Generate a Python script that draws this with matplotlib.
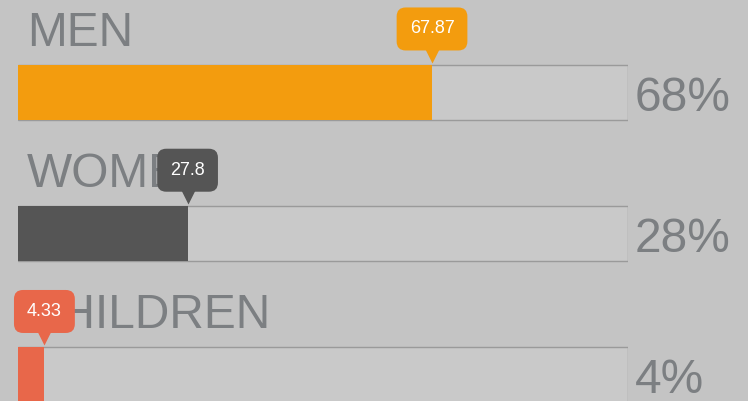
import matplotlib.pyplot as plt
from matplotlib.transforms import offset_copy

# data
categories = ["MEN", "WOMEN", "CHILDREN"]
values = [67.87, 27.8, 4.33]
pct_labels = ["68%", "28%", "4%"]
colors = ["#f39c0e", "#555555", "#e8674a"]

bg = "#c4c4c4"
txt_gray = "#7c7f82"

plt.rcParams['font.family'] = ['Liberation Sans', 'DejaVu Sans']

fig = plt.figure(figsize=(7.48, 4.01), dpi=100, facecolor=bg)
ax = fig.add_axes([18 / 748, 0, 610 / 748, 1])
ax.set_facecolor("none")
ax.set_xlim(0, 100)
ax.set_ylim(2.184, -0.655)
ax.axis("off")

h = 0.39
ypos = list(range(len(categories)))

# track + filled bars
ax.barh(ypos, [100] * len(ypos), height=h, color="#c9c9c9", edgecolor="#9a9a9a", lw=1, zorder=1)
ax.barh(ypos, values, height=h, color=colors, zorder=2)

for i, (cat, v, p, c) in enumerate(zip(categories, values, pct_labels, colors)):
    top = i - h / 2
    # category label above bar
    ax.annotate(cat, xy=(0, top), xytext=(9, 19), textcoords="offset pixels",
                ha="left", va="baseline", fontsize=34.5, color=txt_gray,
                annotation_clip=False, zorder=3)
    # percent to the right
    ax.annotate(p, xy=(100, i), xytext=(7, -18), textcoords="offset pixels",
                ha="left", va="baseline", fontsize=34.5, color=txt_gray,
                annotation_clip=False, zorder=3)
    # tooltip pointer
    tr = offset_copy(ax.transData, fig=fig, x=0, y=10, units="dots")
    ax.plot([v], [top], marker="v", ms=11, color=c, mec="none",
            transform=tr, clip_on=False, zorder=4)
    # tooltip box
    ax.annotate(f"{v:g}", xy=(v, top), xytext=(0, 36), textcoords="offset pixels",
                ha="center", va="center", fontsize=13, color="white",
                bbox=dict(boxstyle="round,pad=0.72,rounding_size=0.5", fc=c, ec="none"),
                annotation_clip=False, zorder=5)

fig.savefig("out.png", dpi=100, facecolor=bg)
